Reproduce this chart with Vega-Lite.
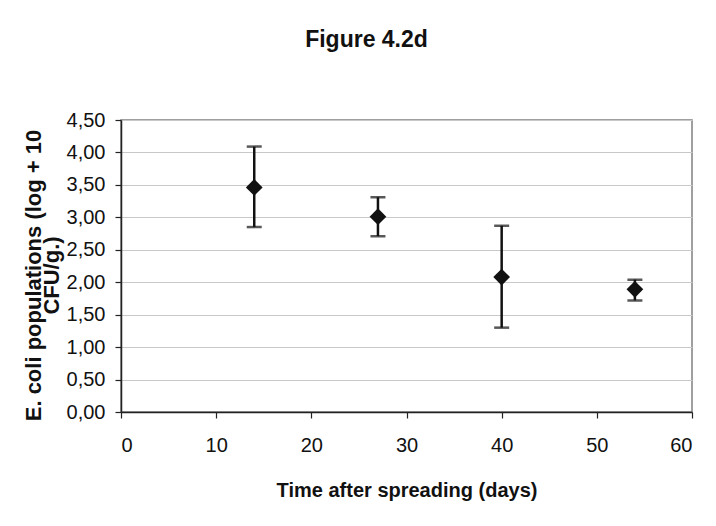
{
  "$schema": "https://vega.github.io/schema/vega-lite/v6.json",
  "autosize": {"type": "none"},
  "padding": {"left": 121, "top": 120, "right": 24, "bottom": 114},
  "width": 571,
  "height": 292,
  "background": "white",
  "title": {
    "text": "Figure 4.2d",
    "fontSize": 23,
    "fontWeight": "bold",
    "font": "Liberation Sans",
    "color": "#111",
    "anchor": "middle",
    "dx": -40,
    "baseline": "alphabetic",
    "offset": 40
  },
  "config": {
    "font": "Liberation Sans",
    "view": {"stroke": "#808080", "strokeWidth": 1.5},
    "axis": {
      "labelFont": "Liberation Sans",
      "titleFont": "Liberation Sans",
      "labelColor": "#111",
      "titleColor": "#111",
      "domainColor": "#222",
      "domainWidth": 1.5,
      "tickColor": "#222",
      "tickWidth": 1.2,
      "tickSize": 6,
      "gridColor": "#c8c8c8",
      "gridWidth": 1,
      "labelOverlap": false,
      "labelBound": false
    }
  },
  "data": {
    "values": [
      {"day": 14, "mean": 3.46, "lo": 2.85, "hi": 4.09},
      {"day": 27, "mean": 3.01, "lo": 2.71, "hi": 3.31},
      {"day": 40, "mean": 2.08, "lo": 1.30, "hi": 2.87},
      {"day": 54, "mean": 1.89, "lo": 1.72, "hi": 2.04}
    ]
  },
  "layer": [
    {
      "mark": {"type": "rule", "color": "#111", "strokeWidth": 2.5},
      "encoding": {
        "x": {
          "field": "day", "type": "quantitative",
          "scale": {"domain": [0, 60], "nice": false, "zero": false},
          "axis": {
            "values": [0, 10, 20, 30, 40, 50, 60],
            "grid": false,
            "labelFontSize": 20,
            "labelPadding": 17,
            "labelBaseline": "top",
            "title": "Time after spreading (days)",
            "titleFontSize": 20,
            "titleFontWeight": "bold",
            "titleBaseline": "alphabetic",
            "titleY": 84
          }
        },
        "y": {
          "field": "lo", "type": "quantitative",
          "scale": {"domain": [0, 4.5], "nice": false, "zero": false},
          "axis": {
            "values": [0, 0.5, 1, 1.5, 2, 2.5, 3, 3.5, 4, 4.5],
            "tickCount": 10,
            "grid": true,
            "labelFontSize": 20,
            "labelPadding": 10,
            "labelExpr": "replace(format(datum.value, '.2f'), '.', ',')",
            "title": ["E. coli populations (log + 10", "CFU/g.)"],
            "titleFontSize": 22,
            "titleFontWeight": "bold",
            "titleLineHeight": 18,
            "titleX": -76,
            "titleY": 155,
            "titleBaseline": "bottom",
            "titleAlign": "center"
          }
        },
        "y2": {"field": "hi"}
      }
    },
    {
      "mark": {"type": "tick", "orient": "horizontal", "color": "#111", "thickness": 2.5, "size": 15},
      "encoding": {
        "x": {"field": "day", "type": "quantitative"},
        "y": {"field": "hi", "type": "quantitative"}
      }
    },
    {
      "mark": {"type": "tick", "orient": "horizontal", "color": "#111", "thickness": 2.5, "size": 15},
      "encoding": {
        "x": {"field": "day", "type": "quantitative"},
        "y": {"field": "lo", "type": "quantitative"}
      }
    },
    {
      "mark": {"type": "point", "shape": "diamond", "filled": true, "size": 280, "color": "#111", "opacity": 1},
      "encoding": {
        "x": {"field": "day", "type": "quantitative"},
        "y": {"field": "mean", "type": "quantitative"}
      }
    }
  ]
}
